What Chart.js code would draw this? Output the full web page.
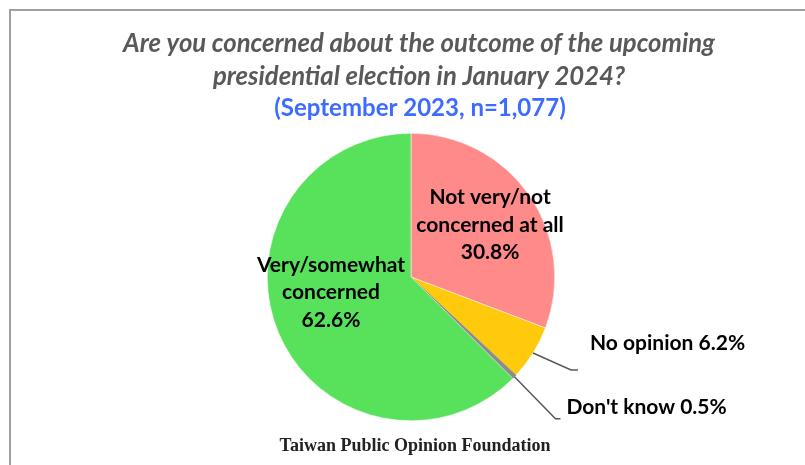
<!DOCTYPE html>
<html>
<head>
<meta charset="utf-8">
<script src="https://cdn.jsdelivr.net/npm/chart.js@4.4.0/dist/chart.umd.min.js"></script>
<style>
  body { margin: 0; background: #fff; }
  #wrap { position: relative; width: 805px; height: 465px; }
  #frame {
    position: absolute; left: 9px; top: 9px; right: 0; bottom: 0;
    border-top: 2px solid #a0a0a0; border-left: 2px solid #a0a0a0;
  }
  canvas { position: absolute; left: 0; top: 0; }
</style>
</head>
<body>
<div id="wrap">
  <div id="frame"></div>
  <canvas id="pie" width="805" height="465"></canvas>
</div>
<script>
// slices, clockwise from 12 o'clock
const categories = ["Not very/not concerned at all", "No opinion", "Don't know", "Very/somewhat concerned"];
const shares = [30.8, 6.2, 0.5, 62.6];
const colors = ["#ff8a8a", "#ffc90c", "#8c8c8c", "#58e15a"];

const titleLines = [
  "Are you concerned about the outcome of the upcoming",
  "presidential election in January 2024?",
];
const subtitleText = "(September 2023, n=1,077)";
const sourceText = "Taiwan Public Opinion Foundation";

// how each slice gets labelled
const labelSpecs = [
  { lines: ["Not very/not", "concerned at all", "30.8%"], inside: true, frac: 0.55, dx: 14, dy: -7 },
  { lines: ["No opinion 6.2%"], inside: false, elbow: [38, 17], tail: 7, text: [19, -27] },
  { lines: ["Don't know 0.5%"], inside: false, elbow: [41, 42], tail: 5, text: [11, -12] },
  { lines: ["Very/somewhat", "concerned", "62.6%"], inside: true, frac: 0.55, dx: -7, dy: -15 },
];

// title block is centred a bit right of the pie, so it's drawn here
const headings = {
  id: "headings",
  afterDraw(chart) {
    const ctx = chart.ctx;
    ctx.save();
    ctx.textAlign = "center";
    ctx.textBaseline = "middle";
    ctx.fillStyle = "#595959";
    ctx.font = "italic bold 25.7px Lato";
    ctx.fillText(titleLines[0], 419, 44);
    ctx.fillText(titleLines[1], 419, 77);
    ctx.fillStyle = "#3d6bff";
    ctx.font = "bold 24px Lato";
    ctx.fillText(subtitleText, 420, 108);
    ctx.font = "bold 18px 'Liberation Serif'";
    ctx.fillStyle = "#222";
    ctx.fillText(sourceText, 415, 446);
    ctx.restore();
  },
};

const sliceLabels = {
  id: "sliceLabels",
  afterDatasetsDraw(chart) {
    const ctx = chart.ctx;
    const arcs = chart.getDatasetMeta(0).data;
    ctx.save();
    ctx.font = "bold 21px Lato";
    ctx.fillStyle = "#000";
    arcs.forEach((arc, i) => {
      const spec = labelSpecs[i];
      const mid = (arc.startAngle + arc.endAngle) / 2;
      const cos = Math.cos(mid), sin = Math.sin(mid);
      if (spec.inside) {
        const r = arc.outerRadius * spec.frac;
        const x = arc.x + cos * r + spec.dx;
        const y = arc.y + sin * r + spec.dy;
        const lh = 27.5;
        ctx.textAlign = "center";
        ctx.textBaseline = "middle";
        spec.lines.forEach((t, k) => {
          ctx.fillText(t, x, y + (k - (spec.lines.length - 1) / 2) * lh);
        });
      } else {
        const x0 = arc.x + cos * arc.outerRadius;
        const y0 = arc.y + sin * arc.outerRadius;
        const x1 = x0 + spec.elbow[0], y1 = y0 + spec.elbow[1];
        ctx.strokeStyle = "#595959";
        ctx.lineWidth = 1.5;
        ctx.beginPath();
        ctx.moveTo(x0, y0);
        ctx.lineTo(x1, y1);
        ctx.lineTo(x1 + spec.tail, y1);
        ctx.stroke();
        ctx.textAlign = "left";
        ctx.textBaseline = "middle";
        ctx.fillText(spec.lines[0], x1 + spec.text[0], y1 + spec.text[1]);
      }
    });
    ctx.restore();
  },
};

new Chart(document.getElementById("pie"), {
  type: "pie",
  data: {
    labels: categories,
    datasets: [{
      data: shares,
      backgroundColor: colors,
      borderColor: ["#ffffff", "#ffffff", "#777777", "#ffffff"],
      borderWidth: 0.5,
    }],
  },
  options: {
    responsive: false,
    animation: false,
    layout: { padding: { top: 133, bottom: 44, left: 17, right: 0 } },
    plugins: {
      legend: { display: false },
      tooltip: { enabled: false },
      title: { display: false },
    },
  },
  plugins: [sliceLabels, headings],
});
</script>
</body>
</html>
